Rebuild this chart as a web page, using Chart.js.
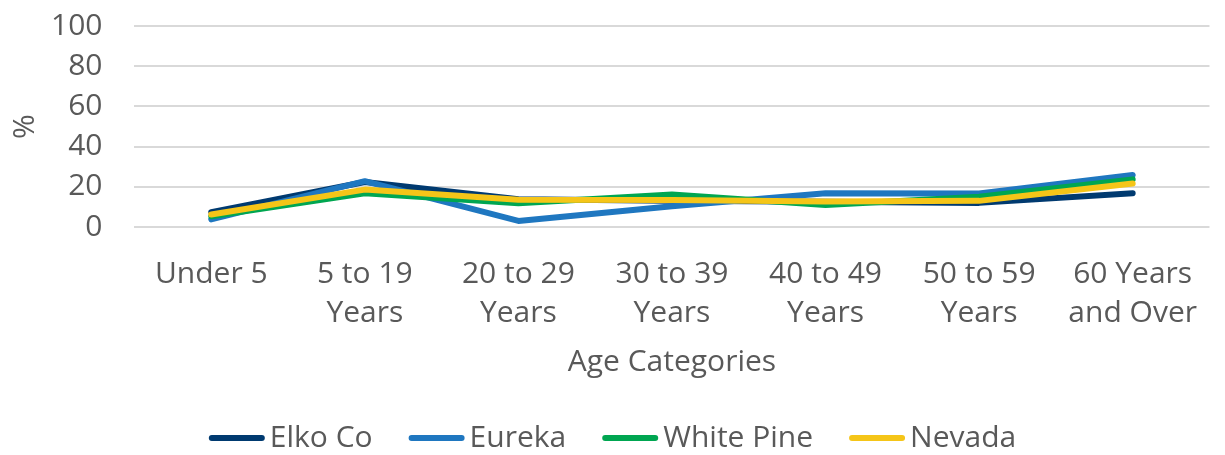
<!DOCTYPE html>
<html>
<head>
<meta charset="utf-8">
<script src="https://cdn.jsdelivr.net/npm/chart.js@4.4.1/dist/chart.umd.min.js"></script>
<style>
html,body{margin:0;padding:0;background:#fff;}
#wrap{width:1225px;height:455px;position:relative;}
</style>
</head>
<body>
<div id="wrap"><canvas id="c" width="1225" height="455"></canvas></div>
<script>
const categories = [["Under 5"], ["5 to 19", "Years"], ["20 to 29", "Years"], ["30 to 39", "Years"], ["40 to 49", "Years"], ["50 to 59", "Years"], ["60 Years", "and Over"]];
const elkoCo = [7.4, 22.4, 13.8, 13.0, 12.6, 12.0, 16.8];
const eureka = [3.8, 22.8, 3.0, 10.3, 16.8, 16.7, 25.9];
const whitePine = [5.3, 16.8, 11.8, 16.2, 10.9, 15.0, 23.7];
const nevada = [6.2, 18.6, 13.6, 13.4, 12.7, 13.0, 21.6];
const yTicks = [0, 20, 40, 60, 80, 100];

const FONT = "'Open Sans', 'Noto Sans', sans-serif";
const GREY = '#595959';
const FS = 30;

function ds(label, data, color, order) {
  return {label, data, borderColor: color, backgroundColor: color, borderWidth: 6,
    pointRadius: 0, pointHoverRadius: 0, tension: 0, borderCapStyle: 'round',
    borderJoinStyle: 'round', fill: false, order};
}

const legendPlugin = {
  id: 'lineLegend',
  afterDraw(chart) {
    const ctx = chart.ctx;
    ctx.save();
    ctx.font = FS + 'px ' + FONT;
    const items = chart.data.datasets.map(d => ({text: d.label, color: d.borderColor, w: ctx.measureText(d.label).width}));
    const mw = 56, gap = 5, sp = 36;
    const total = items.reduce((s, it) => s + mw + gap + it.w, 0) + sp * (items.length - 1);
    let x = (chart.width - total) / 2;
    const y = chart.height - 17;
    ctx.textBaseline = 'middle';
    ctx.textAlign = 'left';
    items.forEach(it => {
      ctx.strokeStyle = it.color;
      ctx.lineWidth = 6;
      ctx.lineCap = 'round';
      ctx.beginPath();
      ctx.moveTo(x + 3, y);
      ctx.lineTo(x + mw - 3, y);
      ctx.stroke();
      ctx.fillStyle = GREY;
      ctx.fillText(it.text, x + mw + gap, y);
      x += mw + gap + it.w + sp;
    });
    ctx.restore();
  }
};

new Chart(document.getElementById('c'), {
  type: 'line',
  data: {
    labels: categories,
    datasets: [
      ds('Elko Co', elkoCo, '#003a70', 3),
      ds('Eureka', eureka, '#1f77c0', 2),
      ds('White Pine', whitePine, '#00a651', 1),
      ds('Nevada', nevada, '#f5c518', 0)
    ]
  },
  plugins: [legendPlugin],
  options: {
    responsive: false,
    animation: false,
    events: [],
    layout: {padding: {left: 0, right: 0, top: 0, bottom: 75}},
    plugins: {
      tooltip: {enabled: false},
      legend: {display: false}
    },
    scales: {
      x: {
        offset: true,
        grid: {display: false, drawTicks: false},
        border: {display: false},
        ticks: {font: {family: FONT, size: FS, lineHeight: 1.3}, color: GREY, maxRotation: 0, autoSkip: false, padding: 28},
        title: {display: true, text: 'Age Categories', font: {family: FONT, size: FS}, color: GREY, padding: {top: -17, bottom: 0}}
      },
      y: {
        min: 0, max: 100,
        afterBuildTicks: (axis) => { axis.ticks = yTicks.map(v => ({value: v})); },
        grid: {color: '#d9d9d9', lineWidth: 2, drawTicks: true, tickLength: 24, tickColor: 'rgba(0,0,0,0)'},
        border: {display: false},
        ticks: {font: {family: FONT, size: FS}, color: GREY, padding: 8, autoSkip: false},
        title: {display: true, text: '%', font: {family: FONT, size: FS}, color: GREY, padding: {top: 7, bottom: 0}}
      }
    }
  }
});
</script>
</body>
</html>
